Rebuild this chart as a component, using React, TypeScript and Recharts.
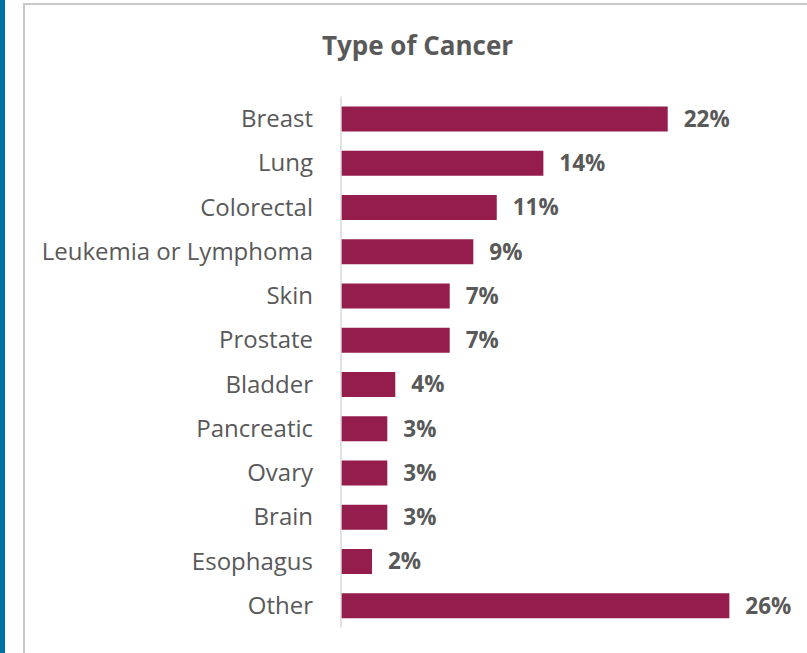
import { Bar, BarChart, LabelList, XAxis, YAxis } from 'recharts'

const categories = [
  'Breast',
  'Lung',
  'Colorectal',
  'Leukemia or Lymphoma',
  'Skin',
  'Prostate',
  'Bladder',
  'Pancreatic',
  'Ovary',
  'Brain',
  'Esophagus',
  'Other',
]
const shares = [22.15, 13.72, 10.56, 8.97, 7.37, 7.37, 3.68, 3.14, 3.14, 3.14, 2.1, 26.33]
const shareLabels = ['22%', '14%', '11%', '9%', '7%', '7%', '4%', '3%', '3%', '3%', '2%', '26%']

const data = categories.map((name, i) => ({ name, share: shares[i], label: shareLabels[i] }))

const FONT = '"Open Sans", Calibri, sans-serif'
const GREY_TEXT = '#595959'

export default function App() {
  return (
    <div style={{ position: 'absolute', left: 0, top: 0, width: 807, height: 653, background: '#fff', overflow: 'hidden' }}>
      <svg width={807} height={653} style={{ position: 'absolute', left: 0, top: 0 }}>
        <rect x={0} y={0} width={5} height={653} fill="#0071a3" />
        <rect x={24} y={4} width={800} height={700} fill="#fff" stroke="#c9c9c9" strokeWidth={2} />
        <text x={417.5} y={55} textAnchor="middle" fontFamily={FONT} fontWeight={700} fontSize={26} fill={GREY_TEXT}>
          Type of Cancer
        </text>
      </svg>
      <div style={{ position: 'absolute', left: 0, top: 0 }}>
        <BarChart
          layout="vertical"
          width={807}
          height={653}
          data={data}
          margin={{ top: 96.5, right: 23.5, bottom: 25.5, left: 0 }}
        >
          <XAxis type="number" domain={[0, 30]} hide />
          <YAxis
            type="category"
            dataKey="name"
            width={341}
            tickLine={false}
            tickSize={0}
            tickMargin={28}
            axisLine={{ stroke: '#d9d9d9', strokeWidth: 1.5 }}
            tick={{ fill: GREY_TEXT, fontSize: 24, fontFamily: FONT }}
            interval={0}
          />
          <Bar dataKey="share" fill="#951d4e" barSize={25} isAnimationActive={false}>
            <LabelList
              dataKey="label"
              position="right"
              offset={16}
              fill={GREY_TEXT}
              fontFamily={FONT}
              fontWeight={700}
              fontSize={22.5}
            />
          </Bar>
        </BarChart>
      </div>
    </div>
  )
}
